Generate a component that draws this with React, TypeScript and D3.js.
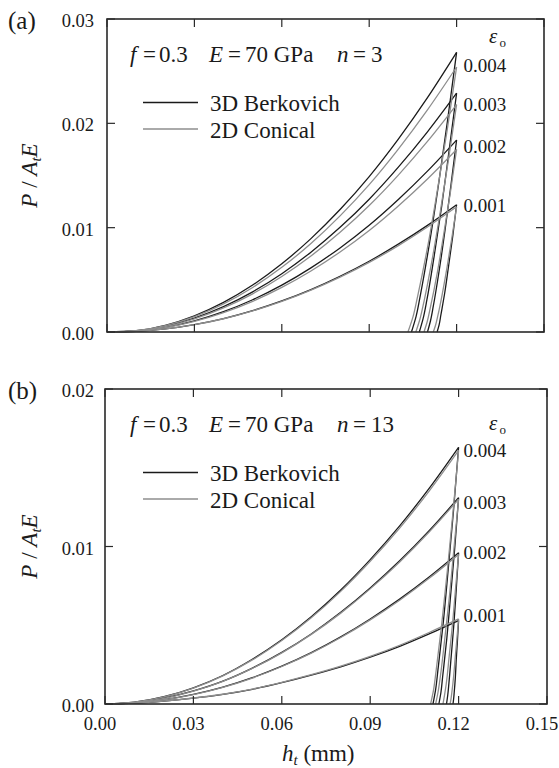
import React from "react";
import * as d3 from "d3";

// Indentation depth grid (mm) used for every loading curve
const H_LOAD = [0, 0.01, 0.02, 0.03, 0.04, 0.05, 0.06, 0.07, 0.08, 0.09, 0.1, 0.11, 0.12];
const EPS_LABELS = ["0.001", "0.002", "0.003", "0.004"];
const X_TICKS = [0, 0.03, 0.06, 0.09, 0.12, 0.15];
const X_TICK_LABELS = ["0.00", "0.03", "0.06", "0.09", "0.12", "0.15"];
const A_Y_TICKS = [0, 0.01, 0.02, 0.03];
const A_Y_TICK_LABELS = ["0.00", "0.01", "0.02", "0.03"];
const B_Y_TICKS = [0, 0.01, 0.02];
const B_Y_TICK_LABELS = ["0.00", "0.01", "0.02"];

// Panel (a): n = 3, loading P/(A_t E) per yield strain 0.001..0.004
const A_BERK_LOAD = [
  [0, 0.00006, 0.00029, 0.00071, 0.00129, 0.00205, 0.00298, 0.00407, 0.00534, 0.00678, 0.00842, 0.01022, 0.0122],
  [0, 0.00009, 0.00044, 0.00107, 0.00195, 0.00309, 0.00449, 0.00615, 0.00806, 0.01023, 0.0127, 0.01542, 0.0184],
  [0, 0.00011, 0.00055, 0.00133, 0.00243, 0.00385, 0.00559, 0.00765, 0.01003, 0.01273, 0.0158, 0.01919, 0.0229],
  [0, 0.00013, 0.00064, 0.00155, 0.00284, 0.0045, 0.00654, 0.00895, 0.01174, 0.0149, 0.01849, 0.02246, 0.0268],
];
const A_CONE_LOAD = [
  [0, 0.00006, 0.00029, 0.0007, 0.00127, 0.00202, 0.00293, 0.00401, 0.00526, 0.00667, 0.00828, 0.01006, 0.012],
  [0, 0.00009, 0.00042, 0.00102, 0.00186, 0.00294, 0.00427, 0.00585, 0.00767, 0.00973, 0.01208, 0.01467, 0.0175],
  [0, 0.00011, 0.00052, 0.00126, 0.00231, 0.00366, 0.00532, 0.00728, 0.00955, 0.01212, 0.01504, 0.01827, 0.0218],
  [0, 0.00013, 0.00061, 0.00147, 0.00269, 0.00427, 0.0062, 0.00848, 0.01113, 0.01412, 0.01753, 0.02129, 0.0254],
];
// Panel (a) unloading branches, [h, P] from peak to residual depth
const A_BERK_UNLOAD: [number, number][][] = [
  [[0.12, 0.0122], [0.1187, 0.00924], [0.1173, 0.00644], [0.116, 0.00388], [0.1146, 0.00163], [0.114, 0.00068], [0.1133, 0]],
  [[0.12, 0.0184], [0.118, 0.01393], [0.116, 0.00972], [0.114, 0.00585], [0.112, 0.00247], [0.111, 0.00103], [0.11, 0]],
  [[0.12, 0.0229], [0.1174, 0.01734], [0.1149, 0.01209], [0.1123, 0.00728], [0.1098, 0.00307], [0.1085, 0.00128], [0.1072, 0]],
  [[0.12, 0.0268], [0.1169, 0.02029], [0.1138, 0.01415], [0.1107, 0.00852], [0.1076, 0.00359], [0.1061, 0.0015], [0.1045, 0]],
];
const A_CONE_UNLOAD: [number, number][][] = [
  [[0.12, 0.012], [0.1184, 0.00908], [0.1168, 0.00634], [0.1152, 0.00382], [0.1136, 0.00161], [0.1128, 0.00067], [0.112, 0]],
  [[0.12, 0.0175], [0.1178, 0.01325], [0.1155, 0.00924], [0.1133, 0.00557], [0.111, 0.00235], [0.1099, 0.00098], [0.1088, 0]],
  [[0.12, 0.0218], [0.1172, 0.0165], [0.1144, 0.01151], [0.1116, 0.00693], [0.1088, 0.00292], [0.1074, 0.00122], [0.106, 0]],
  [[0.12, 0.0254], [0.1167, 0.01923], [0.1133, 0.01341], [0.11, 0.00808], [0.1066, 0.0034], [0.105, 0.00142], [0.1033, 0]],
];

// Panel (b): n = 13
const B_BERK_LOAD = [
  [0, 0.00006, 0.00019, 0.00037, 0.00061, 0.00093, 0.00135, 0.00183, 0.00236, 0.00297, 0.00366, 0.00445, 0.0053],
  [0, 0.00007, 0.00027, 0.00061, 0.00107, 0.00167, 0.0024, 0.00326, 0.00426, 0.0054, 0.00666, 0.00806, 0.0096],
  [0, 0.00009, 0.00037, 0.00083, 0.00145, 0.00228, 0.00328, 0.00445, 0.00582, 0.00737, 0.00909, 0.011, 0.0131],
  [0, 0.00011, 0.00046, 0.00103, 0.00181, 0.00284, 0.00408, 0.00554, 0.00724, 0.00917, 0.01131, 0.01369, 0.0163],
];
const B_CONE_LOAD = [
  [0, 0.00006, 0.00019, 0.00038, 0.00062, 0.00095, 0.00138, 0.00186, 0.0024, 0.00302, 0.00373, 0.00454, 0.0054],
  [0, 0.00007, 0.00027, 0.0006, 0.00106, 0.00165, 0.00238, 0.00323, 0.00422, 0.00534, 0.00659, 0.00798, 0.0095],
  [0, 0.00009, 0.00036, 0.00082, 0.00144, 0.00226, 0.00325, 0.00442, 0.00577, 0.00731, 0.00902, 0.01092, 0.013],
  [0, 0.00011, 0.00045, 0.00101, 0.00179, 0.0028, 0.00403, 0.00547, 0.00715, 0.00906, 0.01117, 0.01352, 0.0161],
];
const B_BERK_UNLOAD: [number, number][][] = [
  [[0.12, 0.0053], [0.1196, 0.00401], [0.1192, 0.0028], [0.1189, 0.00169], [0.1185, 0.00071], [0.1183, 0.0003], [0.1181, 0]],
  [[0.12, 0.0096], [0.1192, 0.00727], [0.1184, 0.00507], [0.1175, 0.00305], [0.1167, 0.00129], [0.1163, 0.00054], [0.1159, 0]],
  [[0.12, 0.0131], [0.1187, 0.00992], [0.1173, 0.00692], [0.116, 0.00417], [0.1146, 0.00176], [0.114, 0.00073], [0.1133, 0]],
  [[0.12, 0.0163], [0.1183, 0.01234], [0.1165, 0.00861], [0.1148, 0.00518], [0.113, 0.00218], [0.1122, 0.00091], [0.1113, 0]],
];
const B_CONE_UNLOAD: [number, number][][] = [
  [[0.12, 0.0054], [0.1194, 0.00409], [0.1188, 0.00285], [0.1183, 0.00172], [0.1177, 0.00072], [0.1174, 0.0003], [0.1171, 0]],
  [[0.12, 0.0095], [0.1189, 0.00719], [0.1179, 0.00502], [0.1168, 0.00302], [0.1158, 0.00127], [0.1152, 0.00053], [0.1147, 0]],
  [[0.12, 0.013], [0.1184, 0.00984], [0.1169, 0.00686], [0.1153, 0.00413], [0.1138, 0.00174], [0.113, 0.00073], [0.1122, 0]],
  [[0.12, 0.0161], [0.1181, 0.01219], [0.1162, 0.0085], [0.1143, 0.00512], [0.1124, 0.00216], [0.1115, 0.0009], [0.1105, 0]],
];

const FONT = '"Liberation Serif", "DejaVu Serif", serif';
const INK = "#1a1a1a";
const GREY = "#8e8e8e";

type PanelCfg = {
  tag: string;
  nLabel: string;
  left: number;
  right: number;
  top: number;
  bottom: number;
  yMax: number;
  yTicks: number[];
  yTickLabels: string[];
  showXLabels: boolean;
  berkLoad: number[][];
  coneLoad: number[][];
  berkUnload: [number, number][][];
  coneUnload: [number, number][][];
  epsLabelY: number[];
  epsSymbolY: number;
};

function Panel({ cfg }: { cfg: PanelCfg }) {
  const x = d3.scaleLinear().domain([0, 0.15]).range([cfg.left, cfg.right]);
  const y = d3.scaleLinear().domain([0, cfg.yMax]).range([cfg.bottom, cfg.top]);
  const loadLine = d3
    .line<number>()
    .x((_, i) => x(H_LOAD[i]))
    .y((d) => y(d))
    .curve(d3.curveMonotoneX);
  const unloadLine = d3
    .line<[number, number]>()
    .x((d) => x(d[0]))
    .y((d) => y(d[1]))
    .curve(d3.curveMonotoneY);
  const tk = 8;
  const t = cfg.top;

  return (
    <g>
      {/* curves: Berkovich first, conical drawn over it */}
      {cfg.berkLoad.map((d, i) => (
        <path key={`bl${i}`} d={loadLine(d) || ""} fill="none" stroke={INK} strokeWidth={1.3} />
      ))}
      {cfg.berkUnload.map((d, i) => (
        <path key={`bu${i}`} d={unloadLine(d) || ""} fill="none" stroke={INK} strokeWidth={1.3} />
      ))}
      {cfg.coneLoad.map((d, i) => (
        <path key={`cl${i}`} d={loadLine(d) || ""} fill="none" stroke={GREY} strokeWidth={1.3} />
      ))}
      {cfg.coneUnload.map((d, i) => (
        <path key={`cu${i}`} d={unloadLine(d) || ""} fill="none" stroke={GREY} strokeWidth={1.3} />
      ))}

      {/* frame and inward ticks */}
      <rect
        x={cfg.left}
        y={cfg.top}
        width={cfg.right - cfg.left}
        height={cfg.bottom - cfg.top}
        fill="none"
        stroke="#2a2a2a"
        strokeWidth={1.6}
      />
      {X_TICKS.map((v, i) => (
        <g key={`xt${i}`}>
          <line x1={x(v)} x2={x(v)} y1={cfg.bottom} y2={cfg.bottom - tk} stroke="#2a2a2a" strokeWidth={1.2} />
          <line x1={x(v)} x2={x(v)} y1={cfg.top} y2={cfg.top + tk} stroke="#2a2a2a" strokeWidth={1.2} />
          {cfg.showXLabels && (
            <text x={x(v) - 5} y={cfg.bottom + 26} textAnchor="middle" fontSize={18.5}>
              {X_TICK_LABELS[i]}
            </text>
          )}
        </g>
      ))}
      {cfg.yTicks.map((v, i) => (
        <g key={`yt${i}`}>
          <line x1={cfg.left} x2={cfg.left + tk} y1={y(v)} y2={y(v)} stroke="#2a2a2a" strokeWidth={1.2} />
          <line x1={cfg.right} x2={cfg.right - tk} y1={y(v)} y2={y(v)} stroke="#2a2a2a" strokeWidth={1.2} />
          <text x={94} y={y(v) + 8} textAnchor="end" fontSize={18.5}>
            {cfg.yTickLabels[i]}
          </text>
        </g>
      ))}

      {/* panel tag */}
      <text x={8} y={t + 9.5} fontSize={25}>
        {cfg.tag}
      </text>

      {/* parameter line */}
      <g fontSize={23}>
        <text x={130} y={t + 43} fontStyle="italic">f</text>
        <text x={143} y={t + 43}>=</text>
        <text x={159} y={t + 43}>0.3</text>
        <text x={209} y={t + 43} fontStyle="italic">E</text>
        <text x={228} y={t + 43}>=</text>
        <text x={245} y={t + 43}>70 GPa</text>
        <text x={337} y={t + 43} fontStyle="italic">n</text>
        <text x={353} y={t + 43}>=</text>
        <text x={371} y={t + 43}>{cfg.nLabel}</text>
      </g>

      {/* legend */}
      <line x1={143} x2={198} y1={t + 83.5} y2={t + 83.5} stroke={INK} strokeWidth={1.5} />
      <line x1={143} x2={198} y1={t + 110} y2={t + 110} stroke={GREY} strokeWidth={1.5} />
      <text x={210} y={t + 91.5} fontSize={23}>3D Berkovich</text>
      <text x={210} y={t + 118.5} fontSize={23}>2D Conical</text>

      {/* yield strain labels */}
      <text x={489} y={cfg.epsSymbolY} fontSize={21} fontStyle="italic">
        ε
      </text>
      <text x={499.5} y={cfg.epsSymbolY + 3.5} fontSize={13}>
        o
      </text>
      {EPS_LABELS.map((s, i) => (
        <text key={`el${i}`} x={463.5} y={cfg.epsLabelY[i]} fontSize={19}>
          {s}
        </text>
      ))}

      {/* vertical axis title */}
      <text
        transform={`translate(37, ${(cfg.top + cfg.bottom) / 2}) rotate(-90)`}
        textAnchor="middle"
        fontSize={23}
        fontStyle="italic"
      >
        <tspan>P</tspan>
        <tspan fontStyle="normal"> / </tspan>
        <tspan>A</tspan>
        <tspan fontSize={15} dy={4}>t</tspan>
        <tspan dy={-4}>E</tspan>
      </text>
    </g>
  );
}

const PANELS: PanelCfg[] = [
  {
    tag: "(a)",
    nLabel: "3",
    left: 107,
    right: 544,
    top: 19,
    bottom: 332,
    yMax: 0.03,
    yTicks: A_Y_TICKS,
    yTickLabels: A_Y_TICK_LABELS,
    showXLabels: false,
    berkLoad: A_BERK_LOAD,
    coneLoad: A_CONE_LOAD,
    berkUnload: A_BERK_UNLOAD,
    coneUnload: A_CONE_UNLOAD,
    epsLabelY: [211.7, 153.3, 111, 72.3],
    epsSymbolY: 43,
  },
  {
    tag: "(b)",
    nLabel: "13",
    left: 105,
    right: 547,
    top: 389,
    bottom: 704,
    yMax: 0.02,
    yTicks: B_Y_TICKS,
    yTickLabels: B_Y_TICK_LABELS,
    showXLabels: true,
    berkLoad: B_BERK_LOAD,
    coneLoad: B_CONE_LOAD,
    berkUnload: B_BERK_UNLOAD,
    coneUnload: B_CONE_UNLOAD,
    epsLabelY: [622.3, 559.3, 509.3, 457.3],
    epsSymbolY: 430,
  },
];

export default function App() {
  return (
    <svg
      width={559}
      height={768}
      viewBox="0 0 559 768"
      style={{ position: "absolute", left: 0, top: 0, background: "#fff", fontFamily: FONT }}
      fill={INK}
    >
      <rect width={559} height={768} fill="#fff" />
      {PANELS.map((p) => (
        <Panel key={p.tag} cfg={p} />
      ))}
      <text x={282} y={761} fontSize={23}>
        <tspan fontStyle="italic">h</tspan>
        <tspan fontSize={15} dy={4} fontStyle="italic">t</tspan>
        <tspan dy={-4}> (mm)</tspan>
      </text>
    </svg>
  );
}
